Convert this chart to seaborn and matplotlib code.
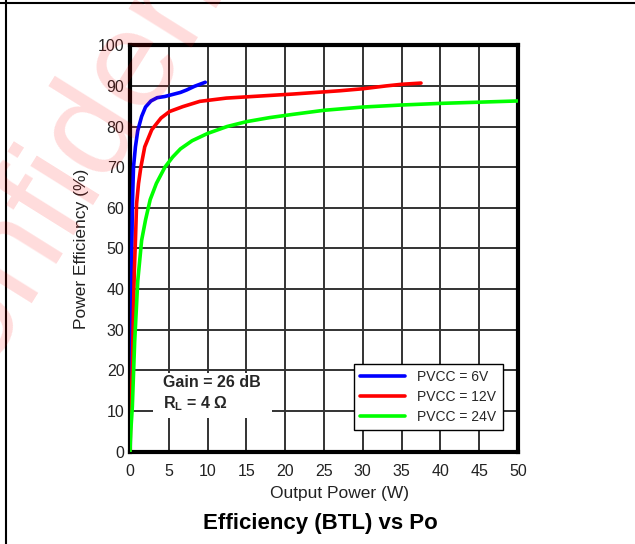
import numpy as np
import pandas as pd
import matplotlib
matplotlib.use("Agg")
import matplotlib.pyplot as plt
import seaborn as sns
from matplotlib.lines import Line2D
from matplotlib.patches import Rectangle

# ---- data ----
x_6v = [0.0, 0.05, 0.15, 0.3, 0.45, 0.7, 1.0, 1.5, 2.0, 2.7, 3.5, 4.5, 5.5, 6.5, 7.3, 8.3, 9.0, 9.7]
y_6v = [0.0, 10.0, 35.0, 60.0, 70.0, 75.0, 79.0, 82.5, 84.8, 86.3, 87.1, 87.4, 87.9, 88.4, 89.0, 89.9, 90.4, 90.9]

x_12v = [0.0, 0.1, 0.3, 0.45, 0.55, 0.7, 0.85, 1.1, 1.4, 1.9, 2.8, 4.0, 5.1, 6.8, 9.0, 12.4, 15.8, 21.0, 27.0, 30.0, 33.0, 35.0, 37.5]
y_12v = [0.0, 10.0, 20.0, 35.0, 44.0, 52.0, 61.0, 66.0, 70.0, 75.0, 79.2, 82.1, 83.7, 84.9, 86.2, 87.0, 87.4, 88.0, 88.8, 89.3, 90.0, 90.4, 90.7]

x_24v = [0.0, 0.1, 0.3, 0.6, 1.0, 1.5, 2.0, 2.6, 3.4, 4.5, 5.5, 6.5, 8.0, 10.0, 12.5, 15.0, 18.0, 21.0, 25.0, 30.0, 35.0, 40.0, 45.0, 50.0]
y_24v = [0.0, 5.0, 11.0, 27.0, 42.0, 52.0, 57.0, 62.0, 66.0, 70.0, 72.5, 74.5, 76.5, 78.3, 80.0, 81.2, 82.2, 83.0, 84.0, 84.8, 85.3, 85.7, 86.0, 86.3]

series_labels = ["PVCC = 6V", "PVCC = 12V", "PVCC = 24V"]
series_colors = ["#0000ff", "#ff0000", "#00ff00"]
x_ticks = [0, 5, 10, 15, 20, 25, 30, 35, 40, 45, 50]
y_ticks = [0, 10, 20, 30, 40, 50, 60, 70, 80, 90, 100]

df = pd.concat([
    pd.DataFrame({"Po": x_6v, "Eff": y_6v, "Series": series_labels[0]}),
    pd.DataFrame({"Po": x_12v, "Eff": y_12v, "Series": series_labels[1]}),
    pd.DataFrame({"Po": x_24v, "Eff": y_24v, "Series": series_labels[2]}),
], ignore_index=True)

sns.set_theme(style="white")
plt.rcParams['font.family'] = ['Liberation Sans', 'DejaVu Sans']
plt.rcParams['mathtext.fontset'] = 'custom'
plt.rcParams['mathtext.rm'] = 'Liberation Sans'
plt.rcParams['mathtext.bf'] = 'Liberation Sans:bold'

fig = plt.figure(figsize=(6.35, 5.44), dpi=100)
fig.patch.set_facecolor("white")
ax = fig.add_axes([130/635, 1 - 451.5/544, 388/635, 406.2/544])
ax.set_facecolor("white")

sns.lineplot(data=df, x="Po", y="Eff", hue="Series", palette=series_colors,
             hue_order=series_labels, sort=False, estimator=None, linewidth=2.6,
             ax=ax, zorder=5)

ax.set_xlim(0, 50)
ax.set_ylim(0, 100)
ax.set_xticks(x_ticks)
ax.set_yticks(y_ticks)
ax.grid(True, color="#333333", linewidth=1.4)
ax.set_axisbelow(True)
for s in ax.spines.values():
    s.set_color("black")
    s.set_linewidth(3.0)
ax.tick_params(axis="both", length=0, labelsize=11.5, colors="#222222")
ax.tick_params(axis="x", pad=9)
ax.tick_params(axis="y", pad=4)

ax.set_xlabel("Output Power (W)", fontsize=12.5, color="#222222")
ax.set_ylabel("Power Efficiency (%)", fontsize=12.5, color="#222222")
ax.xaxis.set_label_coords(0.539, -0.085)
ax.yaxis.set_label_coords(-0.105, 0.5)

# white box with test conditions
ax.add_patch(Rectangle((2.95, 8.25), 15.3, 11.05, facecolor="white", edgecolor="none", zorder=3))
ax.text(4.2, 16.9, "Gain = 26 dB", fontsize=11.5, fontweight="bold", va="center", ha="left", zorder=4)
ax.text(4.2, 11.7, r"R$_{\mathbf{L}}$ = 4 Ω", fontsize=11.5, fontweight="bold", va="center", ha="left", zorder=4)

leg = ax.legend(loc="lower right", bbox_to_anchor=(0.961, 0.053), borderaxespad=0,
                fontsize=10, frameon=True, fancybox=False, framealpha=1,
                edgecolor="black", handlelength=3.25, handletextpad=0.9,
                labelspacing=0.42, borderpad=0.45, title=None)
leg.get_frame().set_linewidth(1.0)
leg.set_zorder(6)

fig.text(320/635, 1 - 523/544, "Efficiency (BTL) vs Po", fontsize=16,
         fontweight="bold", ha="center", va="center", color="black")

# page frame lines
fig.add_artist(Line2D([0, 1], [1 - 2.5/544, 1 - 2.5/544], color="black", linewidth=1.5, transform=fig.transFigure))
fig.add_artist(Line2D([6/635, 6/635], [0, 1], color="black", linewidth=1.5, transform=fig.transFigure))

# watermark
fig.text(-70/635, 1 - 455/544, "Confidential", fontsize=100, color="red", alpha=0.14,
         rotation=58, rotation_mode="anchor", ha="left", va="baseline", zorder=20)

fig.savefig("out.png", dpi=100, facecolor="white")
